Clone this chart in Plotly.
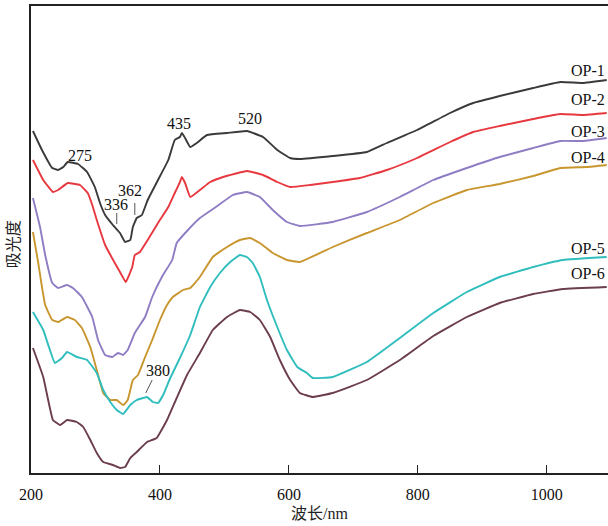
import plotly.graph_objects as go

# ---------------- data (wavelength nm, absorbance a.u.) ----------------
op1_x = [203, 217, 233, 242, 250, 257, 273, 287, 299, 307, 315, 327, 338, 346, 354, 358, 364, 372, 381, 397, 413, 423, 431, 434, 439, 447, 457, 473, 504, 535, 560, 582, 602, 617, 668, 721, 752, 799, 850, 886, 927, 979, 1021, 1056, 1093]
op1_y = [3.42, 3.23, 3.05, 3.03, 3.06, 3.11, 3.09, 3.01, 2.86, 2.70, 2.58, 2.48, 2.40, 2.31, 2.33, 2.46, 2.55, 2.58, 2.73, 2.93, 3.13, 3.33, 3.36, 3.40, 3.35, 3.26, 3.30, 3.38, 3.40, 3.42, 3.36, 3.23, 3.15, 3.14, 3.17, 3.21, 3.30, 3.43, 3.60, 3.70, 3.77, 3.85, 3.91, 3.90, 3.93]

op2_x = [203, 219, 234, 242, 257, 276, 288, 295, 302, 315, 330, 338, 347, 357, 361, 369, 381, 397, 413, 423, 431, 434, 439, 447, 462, 478, 498, 535, 560, 582, 602, 633, 668, 710, 752, 799, 850, 886, 927, 979, 1021, 1056, 1093]
op2_y = [3.13, 2.93, 2.81, 2.83, 2.90, 2.88, 2.80, 2.68, 2.53, 2.28, 2.10, 2.01, 1.91, 2.06, 2.18, 2.21, 2.33, 2.50, 2.66, 2.80, 2.91, 2.96, 2.90, 2.76, 2.83, 2.91, 2.96, 3.02, 2.98, 2.91, 2.86, 2.88, 2.91, 2.95, 3.03, 3.15, 3.31, 3.41, 3.47, 3.54, 3.59, 3.58, 3.60]

op3_x = [203, 214, 222, 233, 242, 256, 265, 279, 295, 304, 315, 326, 335, 343, 350, 361, 377, 388, 403, 419, 426, 442, 462, 489, 513, 535, 555, 575, 597, 617, 668, 721, 772, 824, 876, 927, 979, 1021, 1056, 1093]
op3_y = [2.75, 2.46, 2.18, 1.90, 1.85, 1.88, 1.85, 1.76, 1.56, 1.33, 1.18, 1.16, 1.20, 1.18, 1.23, 1.40, 1.56, 1.76, 1.96, 2.13, 2.30, 2.42, 2.55, 2.67, 2.78, 2.81, 2.76, 2.63, 2.51, 2.47, 2.51, 2.61, 2.76, 2.93, 3.05, 3.16, 3.25, 3.32, 3.32, 3.35]

op4_x = [203, 211, 217, 222, 233, 242, 256, 268, 279, 292, 302, 312, 323, 333, 343, 350, 358, 366, 377, 388, 400, 411, 420, 436, 447, 462, 482, 504, 524, 540, 555, 575, 597, 617, 668, 721, 772, 824, 876, 927, 979, 1021, 1062, 1093]
op4_y = [2.41, 2.11, 1.86, 1.68, 1.53, 1.51, 1.56, 1.53, 1.45, 1.26, 1.03, 0.80, 0.73, 0.73, 0.68, 0.73, 0.93, 0.98, 1.16, 1.33, 1.53, 1.68, 1.76, 1.83, 1.85, 1.96, 2.16, 2.26, 2.33, 2.35, 2.30, 2.20, 2.13, 2.11, 2.26, 2.40, 2.53, 2.70, 2.83, 2.89, 2.97, 3.05, 3.06, 3.08]

op5_x = [203, 219, 237, 248, 256, 271, 287, 302, 312, 323, 333, 343, 354, 364, 374, 380, 389, 397, 405, 416, 431, 447, 462, 478, 493, 509, 524, 535, 544, 555, 566, 582, 597, 613, 628, 637, 668, 721, 772, 824, 876, 927, 979, 1025, 1093]
op5_y = [1.61, 1.43, 1.10, 1.15, 1.21, 1.16, 1.13, 1.00, 0.83, 0.71, 0.63, 0.59, 0.68, 0.73, 0.75, 0.76, 0.71, 0.70, 0.78, 0.95, 1.15, 1.38, 1.66, 1.86, 2.00, 2.11, 2.18, 2.16, 2.10, 1.96, 1.73, 1.46, 1.23, 1.06, 1.00, 0.95, 0.96, 1.11, 1.35, 1.60, 1.81, 1.96, 2.06, 2.13, 2.16]

op6_x = [203, 219, 234, 245, 256, 271, 281, 292, 302, 312, 327, 338, 346, 354, 364, 380, 395, 411, 426, 442, 462, 482, 504, 524, 540, 555, 571, 586, 602, 617, 637, 668, 721, 772, 824, 876, 927, 979, 1025, 1093]
op6_y = [1.25, 0.96, 0.53, 0.48, 0.53, 0.51, 0.46, 0.33, 0.20, 0.11, 0.08, 0.05, 0.06, 0.15, 0.21, 0.31, 0.35, 0.53, 0.75, 0.98, 1.20, 1.43, 1.56, 1.63, 1.61, 1.53, 1.36, 1.13, 0.93, 0.80, 0.76, 0.80, 0.93, 1.13, 1.37, 1.56, 1.70, 1.79, 1.84, 1.86]

series_names = ["OP-1", "OP-2", "OP-3", "OP-4", "OP-5", "OP-6"]
series_x = [op1_x, op2_x, op3_x, op4_x, op5_x, op6_x]
series_y = [op1_y, op2_y, op3_y, op4_y, op5_y, op6_y]
series_colors = ["#3a3a3a", "#e8383f", "#8f7dc4", "#c8962f", "#2fbdbd", "#6b3d4d"]
label_y = [4.03, 3.74, 3.42, 3.16, 2.25, 2.00]

peak_labels = ["275", "336", "362", "435", "520", "380"]
peak_label_x = [276, 332, 354, 430, 540, 397]
peak_label_y = [3.18, 2.69, 2.83, 3.50, 3.55, 1.03]

x_ticks = [200, 400, 600, 800, 1000]

serif = "Liberation Serif, Times New Roman, Noto Sans CJK SC, serif"

fig = go.Figure()
for name, xs, ys, c in zip(series_names, series_x, series_y, series_colors):
    fig.add_trace(go.Scatter(x=xs, y=ys, mode="lines", name=name,
                             line=dict(color=c, width=1.9, shape="spline", smoothing=0.3),
                             showlegend=False, hoverinfo="skip"))

# curve labels
for name, ly in zip(series_names, label_y):
    fig.add_annotation(x=1035, y=ly, text=name, showarrow=False, xanchor="left",
                       yanchor="middle", font=dict(family=serif, size=16, color="#111"))

# peak labels
for t, px, py in zip(peak_labels, peak_label_x, peak_label_y):
    fig.add_annotation(x=px, y=py, text=t, showarrow=False, xanchor="center",
                       yanchor="middle", font=dict(family=serif, size=16, color="#111"))

# leader lines
fig.add_shape(type="line", x0=333, x1=333, y0=2.60, y1=2.49, line=dict(color="#555", width=1))
fig.add_shape(type="line", x0=361, x1=361, y0=2.70, y1=2.58, line=dict(color="#555", width=1))
fig.add_shape(type="line", x0=388, x1=378, y0=0.93, y1=0.80, line=dict(color="#555", width=1))

# axis titles
fig.add_annotation(xref="paper", yref="paper", x=0.5, y=0, yshift=-40, text="波长/nm",
                   showarrow=False, xanchor="center", yanchor="middle",
                   font=dict(family=serif, size=16, color="#222"))
fig.add_annotation(xref="paper", yref="paper", x=0, y=0.49, xshift=-19, text="吸光度",
                   showarrow=False, textangle=-90, xanchor="center", yanchor="middle",
                   font=dict(family="Noto Sans CJK SC, serif", size=16, color="#222"))

fig.update_xaxes(range=[200, 1095], tickvals=x_ticks, ticktext=[str(v) for v in x_ticks],
                 ticks="inside", ticklen=8, tickwidth=1.2, tickcolor="#222",
                 showline=True, linecolor="#222", linewidth=1.5, mirror=True,
                 showgrid=False, zeroline=False, ticklabelstandoff=6,
                 tickfont=dict(family=serif, size=16, color="#111"))
fig.update_yaxes(range=[0, 4.67], showticklabels=False, ticks="",
                 showline=True, linecolor="#222", linewidth=1.5, mirror=False,
                 showgrid=False, zeroline=False)

fig.update_layout(width=608, height=526, margin=dict(l=31, r=0, t=6, b=53, autoexpand=False),
                  paper_bgcolor="white", plot_bgcolor="white")

fig.write_html("out.html", config={"displayModeBar": False},
               post_script="document.body.style.margin='0';document.body.style.overflow='hidden';")
